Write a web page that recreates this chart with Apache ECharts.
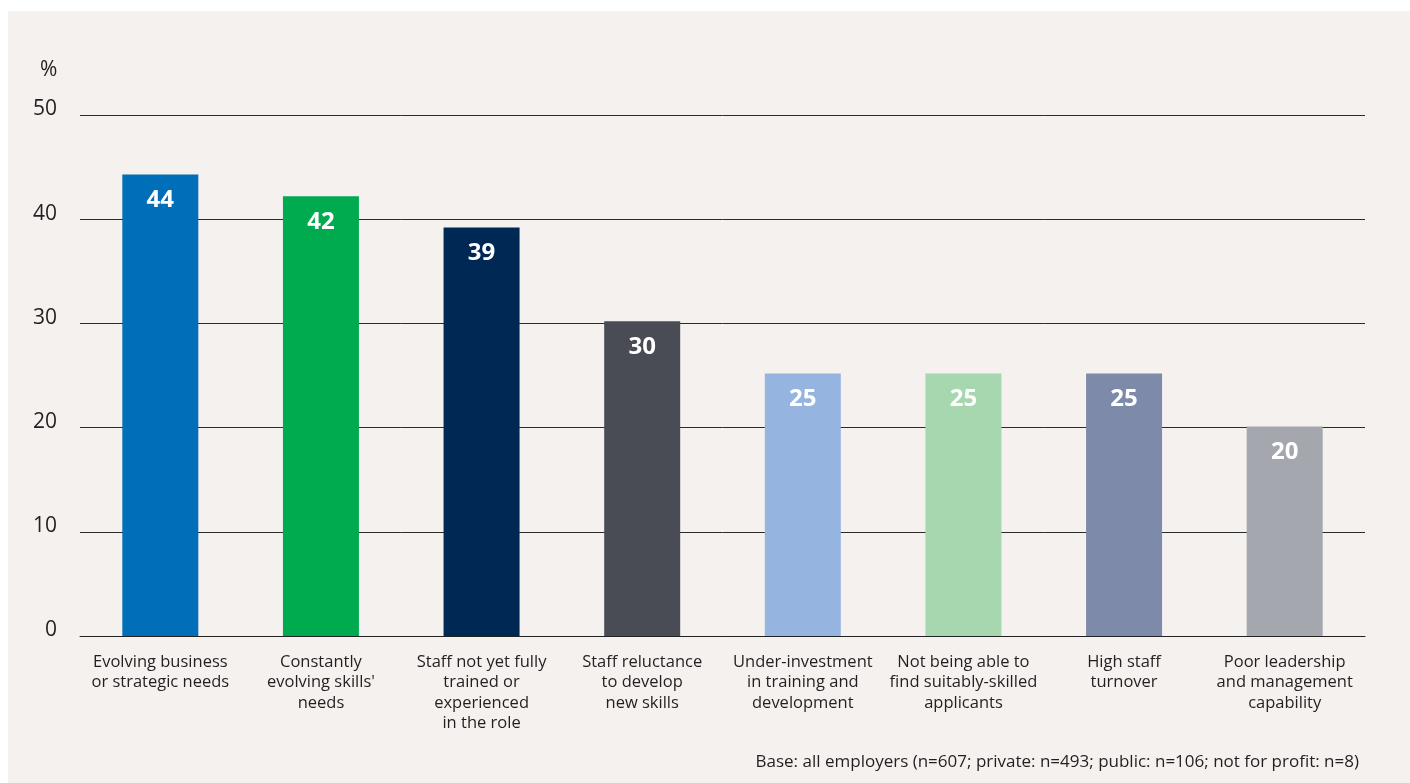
<!DOCTYPE html>
<html>
<head>
<meta charset="utf-8">
<script src="https://cdn.jsdelivr.net/npm/echarts@6/dist/echarts.min.js"></script>
<style>
  html, body { margin: 0; padding: 0; background: #ffffff; }
  #panel { position: absolute; left: 8px; top: 11px; width: 1402px; height: 772px; background: #F4F1EE; }
  #chart { position: absolute; left: 0; top: 0; width: 1410px; height: 783px; }
</style>
</head>
<body>
<div id="panel"></div>
<div id="chart"></div>
<script>
const categories = [
  "Evolving business\nor strategic needs",
  "Constantly\nevolving skills'\nneeds",
  "Staff not yet fully\ntrained or\nexperienced\nin the role",
  "Staff reluctance\nto develop\nnew skills",
  "Under-investment\nin training and\ndevelopment",
  "Not being able to\nfind suitably-skilled\napplicants",
  "High staff\nturnover",
  "Poor leadership\nand management\ncapability"
];
const values = [44.3, 42.2, 39.2, 30.2, 25.2, 25.2, 25.2, 20.1];
const colors = ["#006EB8", "#00AA4F", "#002855", "#494C55", "#96B4E0", "#A6D7AE", "#7E8AA9", "#A4A7AE"];
const yTicks = [0, 10, 20, 30, 40, 50];
const unitLabel = "%";
const footnote = "Base: all employers (n=607; private: n=493; public: n=106; not for profit: n=8)";

const FONT = "'Open Sans', 'Noto Sans', sans-serif";
const chart = echarts.init(document.getElementById('chart'), null, { renderer: 'canvas' });
chart.setOption({
  backgroundColor: 'transparent',
  animation: false,
  title: [
    { text: unitLabel, left: 35, top: 55, textStyle: { fontFamily: FONT, fontSize: 21, fontWeight: 'normal', color: '#231f20' } },
    { text: footnote, right: 46, top: 749, textStyle: { fontFamily: FONT, fontSize: 17, fontWeight: 'normal', color: '#231f20' } }
  ],
  grid: { left: 80, right: 45, top: 115, bottom: 147, containLabel: false },
  xAxis: {
    type: 'category',
    data: categories,
    axisLine: { show: true, lineStyle: { color: '#222222', width: 1 } },
    axisTick: { show: false },
    axisLabel: {
      interval: 0, margin: 16, color: '#231f20', fontFamily: FONT, fontSize: 16.5, lineHeight: 20.5, align: 'center'
    }
  },
  yAxis: {
    type: 'value',
    min: yTicks[0], max: yTicks[yTicks.length - 1], interval: 10,
    axisLine: { show: false },
    axisTick: { show: false },
    splitLine: { show: true, lineStyle: { color: '#2a2a2a', width: 1 } },
    axisLabel: { margin: 23, color: '#231f20', fontFamily: FONT, fontSize: 21, verticalAlign: 'bottom', lineHeight: 11 }
  },
  series: [{
    type: 'bar',
    data: values.map((v, i) => ({ value: v, itemStyle: { color: colors[i] } })),
    barWidth: 76,
    label: {
      show: true, position: 'insideTop', distance: 14,
      color: '#ffffff', fontFamily: FONT, fontSize: 24, fontWeight: 'bold',
      formatter: p => Math.round(p.value)
    }
  }]
});
</script>
</body>
</html>
